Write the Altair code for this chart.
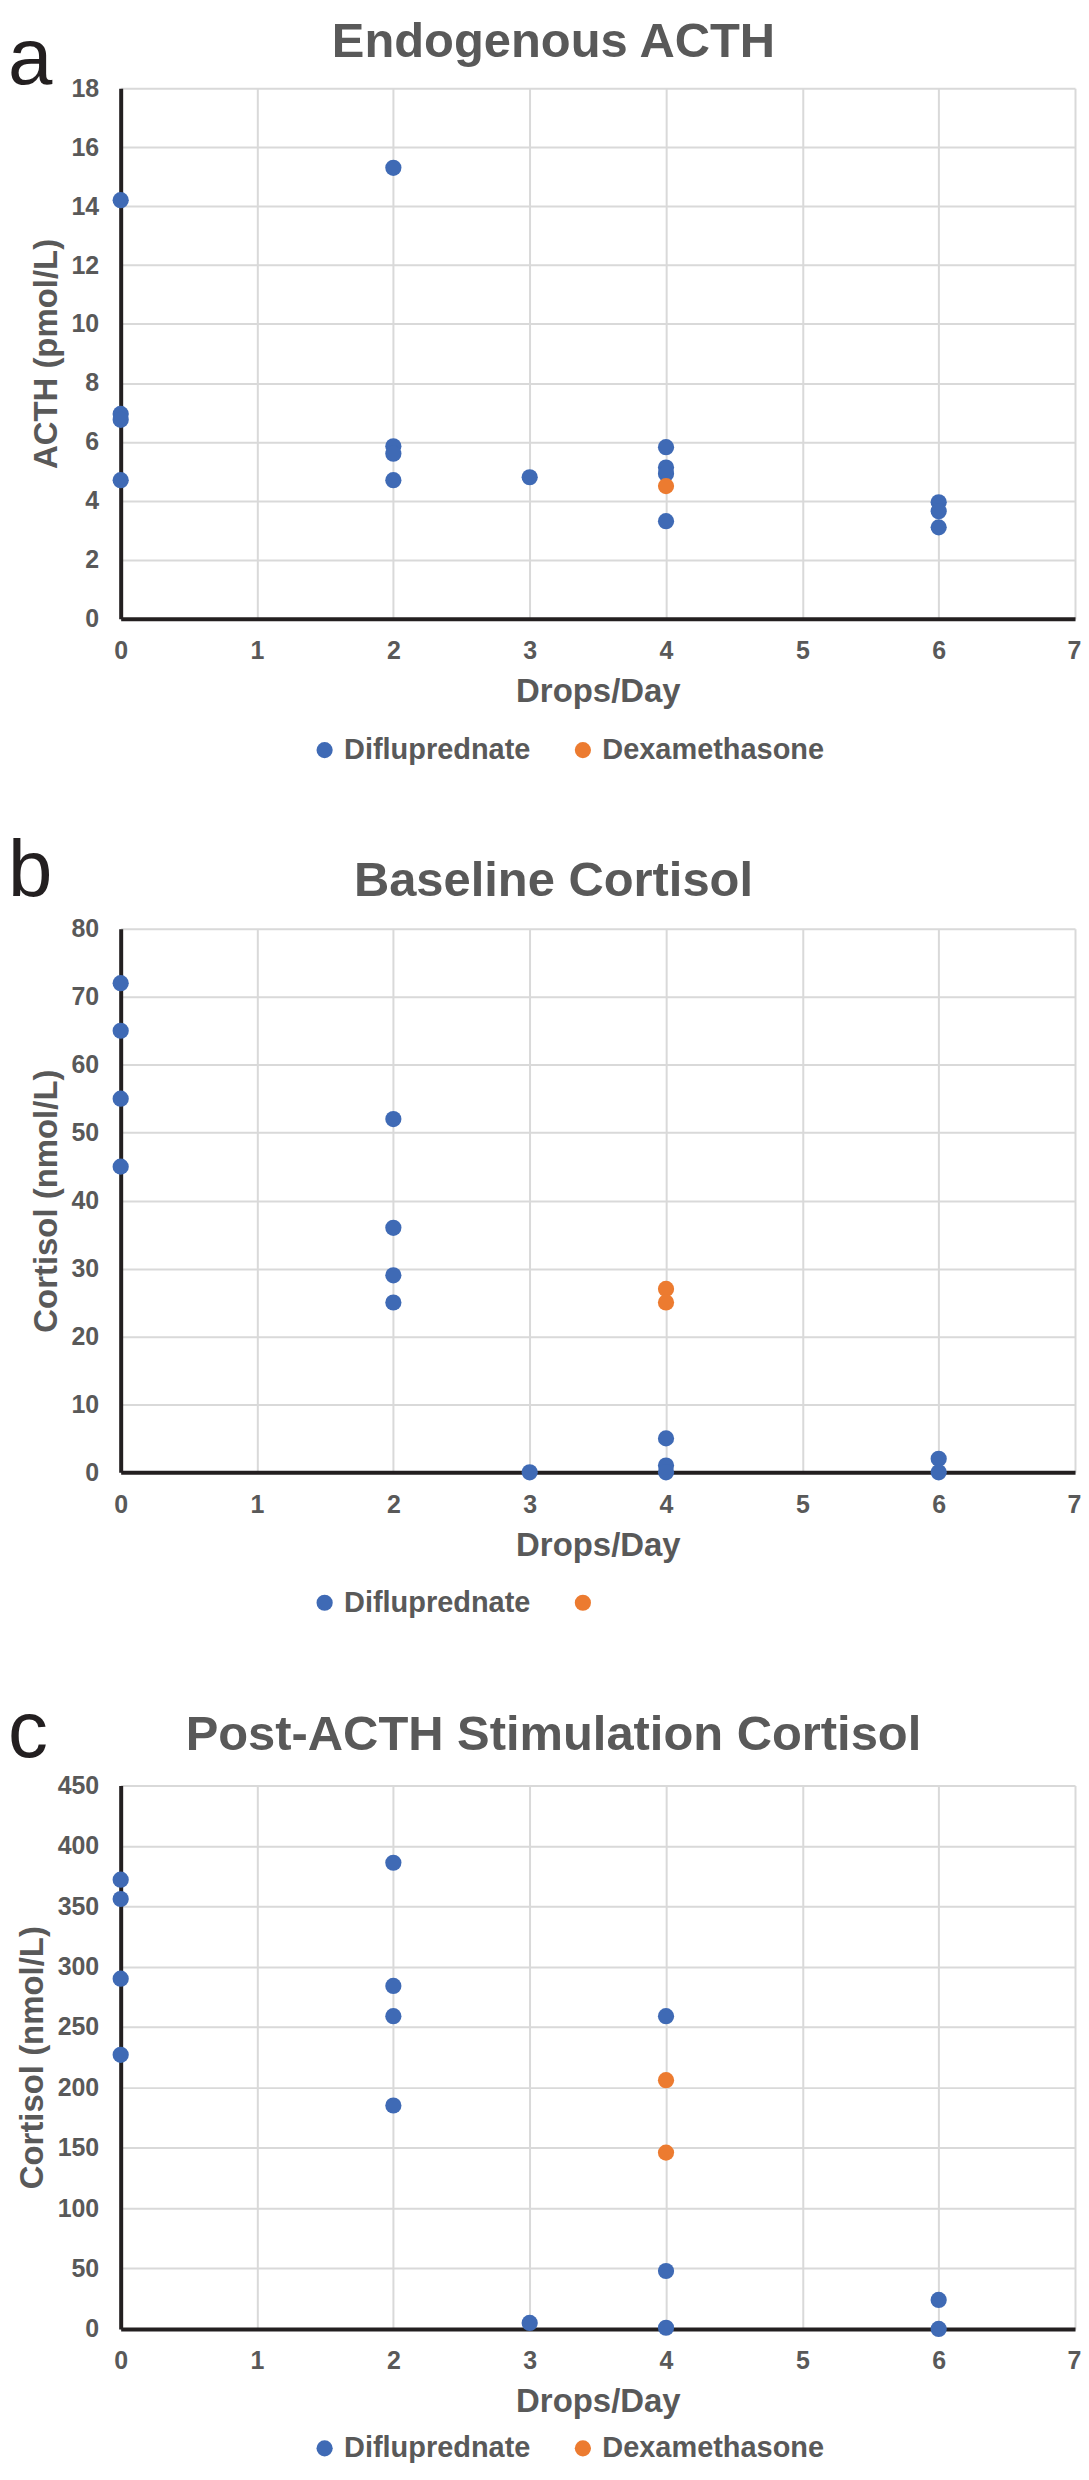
import altair as alt
import pandas as pd

SERIES = ["Difluprednate", "Dexamethasone"]
COLORS = ["#3F6AB5", "#EC7B30"]

# Panel a: Endogenous ACTH (pmol/L)
a_drops_dif = [0, 0, 0, 0, 2, 2, 2, 2, 3, 4, 4, 4, 4, 6, 6, 6]
a_vals_dif = [14.2, 6.95, 6.75, 4.7, 15.3, 5.85, 5.6, 4.7, 4.8, 5.82, 5.13, 4.92, 3.31, 3.95, 3.65, 3.1]
a_drops_dex = [4]
a_vals_dex = [4.5]

# Panel b: Baseline cortisol (nmol/L)
b_drops_dif = [0, 0, 0, 0, 2, 2, 2, 2, 3, 4, 4, 4, 6, 6]
b_vals_dif = [72, 65, 55, 45, 52, 36, 29, 25, 0, 5, 1, 0, 2, 0]
b_drops_dex = [4, 4]
b_vals_dex = [27, 25]

# Panel c: Post-ACTH stimulation cortisol (nmol/L)
c_drops_dif = [0, 0, 0, 0, 2, 2, 2, 2, 3, 4, 4, 4, 6, 6]
c_vals_dif = [372, 356, 290, 227, 386, 284, 259, 185, 5, 259, 48, 1, 24, 0]
c_drops_dex = [4, 4]
c_vals_dex = [206, 146]

X_TICKS = [0, 1, 2, 3, 4, 5, 6, 7]

GRAY = "#595959"
FONT = "Liberation Sans"
PLOT_W = 957


def make_df(dx, vx, dd, vd):
    return pd.DataFrame({
        "drops": dx + dd,
        "value": vx + vd,
        "series": [SERIES[0]] * len(dx) + [SERIES[1]] * len(dd),
    })


def panel(df, title, ytitle, ymax, ystep, letter, letter_y, title_y, height,
          legend_y, top_ext, bottom_ext, hide_dex_label=False):
    yticks = list(range(0, ymax + 1, ystep))
    legend = alt.Legend(
        title=None, orient="none", direction="horizontal",
        legendX=190, legendY=legend_y,
        labelFont=FONT, labelFontSize=29, labelFontWeight="bold", labelColor=GRAY,
        labelLimit=500,
        symbolType="circle", symbolSize=264, symbolStrokeWidth=0, symbolOpacity=1,
        labelOffset=5, columnPadding=38,
        labelExpr=("datum.value == 'Dexamethasone' ? '' : datum.label") if hide_dex_label else "datum.label",
    )
    pts = alt.Chart(df).mark_circle(size=264, opacity=1).encode(
        x=alt.X("drops:Q", scale=alt.Scale(domain=[0, 7], nice=False),
                axis=alt.Axis(values=X_TICKS, title="Drops/Day", format="d",
                              labelAlign={"condition": {"test": "datum.value == 7", "value": "right"},
                                          "value": "center"},
                              labelOffset={"condition": {"test": "datum.value == 7", "value": 6},
                                           "value": 0})),
        y=alt.Y("value:Q", scale=alt.Scale(domain=[0, ymax], nice=False),
                axis=alt.Axis(values=yticks, title=ytitle, format="d")),
        color=alt.Color("series:N", scale=alt.Scale(domain=SERIES, range=COLORS),
                        legend=legend, sort=SERIES),
        order=alt.Order("order:Q"),
    ).transform_calculate(order="datum.series == 'Dexamethasone' ? 1 : 0")
    lab = alt.Chart(pd.DataFrame({"letter": [letter]})).mark_text(
        font=FONT, fontSize=80, color="#231F20", align="left",
        baseline="alphabetic",
    ).encode(x=alt.value(-113), y=alt.value(letter_y), text="letter:N")
    ttl = alt.Chart(pd.DataFrame({"title": [title]})).mark_text(
        font=FONT, fontSize=49, fontWeight="bold", color=GRAY, align="center",
        baseline="alphabetic",
    ).encode(x=alt.value(434), y=alt.value(title_y), text="title:N")
    # invisible spacer fixing the panel's vertical extent
    spacer = alt.Chart(pd.DataFrame({"k": [0]})).mark_rule(
        strokeOpacity=0, strokeWidth=1
    ).encode(x=alt.value(0), y=alt.value(-top_ext), y2=alt.value(bottom_ext))
    return alt.layer(pts, lab, ttl, spacer).properties(width=PLOT_W, height=height)


pa = panel(make_df(a_drops_dif, a_vals_dif, a_drops_dex, a_vals_dex),
           "Endogenous ACTH", "ACTH (pmol/L)", 18, 2, "a", -4, -31, 532, 649, 77, 736.5)
pb = panel(make_df(b_drops_dif, b_vals_dif, b_drops_dex, b_vals_dex),
           "Baseline Cortisol", "Cortisol (nmol/L)", 80, 10, "b", -33, -33, 545, 661, 106, 757,
           hide_dex_label=True)
pc = panel(make_df(c_drops_dif, c_vals_dif, c_drops_dex, c_vals_dex),
           "Post-ACTH Stimulation Cortisol", "Cortisol (nmol/L)", 450, 50, "c", -29, -36, 545, 650,
           102, 682)

chart = alt.concat(pa, pb, pc, columns=1, spacing=0).resolve_scale(
    color="independent"
).configure_view(
    stroke=None
).configure_axis(
    labelFont=FONT, labelFontSize=25, labelFontWeight="bold", labelColor=GRAY,
    titleFont=FONT, titleFontSize=33, titleFontWeight="bold", titleColor=GRAY,
    gridColor="#D9D9D9", gridWidth=2, domainColor="#231F20", domainWidth=4,
    tickSize=0, ticks=False,
).configure_axisX(labelPadding=20, titlePadding=12).configure_axisY(
    labelPadding=22, titlePadding=8
).properties(padding=0, background="white")

chart.save("out.html", embed_options={"renderer": "svg", "actions": False})
